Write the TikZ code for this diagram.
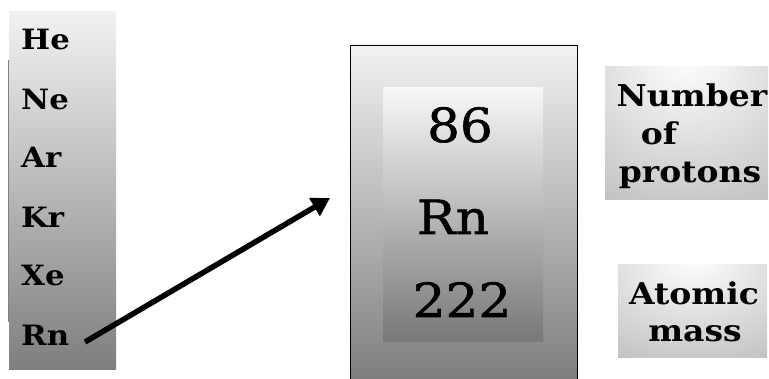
\documentclass[tikz,border=0pt]{standalone}
\usepackage{fontspec}
\setmainfont[FakeStretch=1.1]{DejaVu Serif}
\newfontfamily\midfont[FakeStretch=1.1,FakeBold=1.2]{DejaVu Serif}
\usetikzlibrary{arrows.meta}
\pgfdeclareradialshading{topglow}{\pgfpoint{0bp}{30bp}}{color(0bp)=(white); color(25bp)=(gray!25); color(60bp)=(gray!60); color(100bp)=(gray!70)}
\definecolor{lite}{HTML}{F2F2F2}
\definecolor{dark}{HTML}{7E7E7E}
\begin{document}
\begin{tikzpicture}[x=1pt,y=-1pt,
  lbl/.style={font=\fontsize{28}{28}\selectfont\bfseries, anchor=base west, inner sep=0pt},
  big/.style={font=\fontsize{47}{47}\selectfont\midfont, anchor=base, inner sep=0pt},
  side/.style={font=\fontsize{30}{30}\selectfont\bfseries, anchor=base, inner sep=0pt},
  glowbox/.style={shading=topglow}]
\useasboundingbox (0,0) rectangle (769,379);
% left column
\shade[top color=lite, bottom color=dark] (9,12) rectangle (116,370);
\draw[gray, line width=0.8pt] (8,60) -- (8,322);
\node[lbl] (he) at (21,50) {He};
\node[lbl] (ne) at (21,110) {Ne};
\node[lbl] (ar) at (21,168) {Ar};
\node[lbl] (kr) at (21,228) {Kr};
\node[lbl] (xe) at (21,286) {Xe};
\node[lbl] (rn) at (21,346) {Rn};
% middle card
\shade[top color=lite, bottom color=dark] (350,45) rectangle (577,379);
\draw[black, line width=0.8pt] (350,379) -- (350,45) -- (577,45) -- (577,379);
\shade[top color=white!97!black, bottom color=dark!95!black] (383,88) rectangle (543,342);
\node[big] (num) at (460,142) {86};
\node[big] (sym) at (453,234) {Rn};
\node[big] (mass) at (462,317) {222};
% right boxes
\shade[glowbox] (605,67) rectangle (768,200);
\node[side] (t1) at (692,107) {Number};
\node[side] (t2) at (659,145) {of};
\node[side] (t3) at (690,183) {protons};
\shade[glowbox] (618,265) rectangle (767,358);
\node[side] (t4) at (694,305) {Atomic};
\node[side] (t5) at (695,342) {mass};
% arrow
\coordinate (a0) at (85,342);
\coordinate (a1) at (330,198);
\draw[line width=5.5pt, -{Triangle[length=18pt,width=20pt]}] (a0) -- (a1);
\end{tikzpicture}
\end{document}
